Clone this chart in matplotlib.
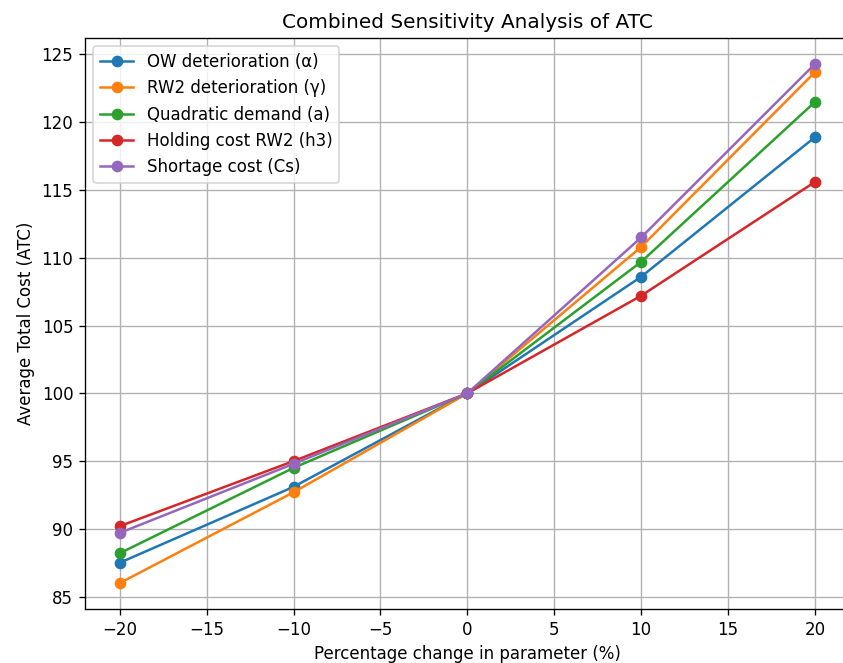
import matplotlib.pyplot as plt
import numpy as np

# Percentage change in each parameter
changes = [-20, -10, 0, 10, 20]

# ATC values
ow_alpha = [87.5, 93.1, 100.0, 108.6, 118.9]
rw2_gamma = [86.0, 92.7, 100.0, 110.8, 123.7]
quad_a = [88.2, 94.5, 100.0, 109.7, 121.5]
hold_h3 = [90.2, 95.0, 100.0, 107.2, 115.6]
short_cs = [89.7, 94.8, 100.0, 111.5, 124.3]

labels = ['OW deterioration (α)', 'RW2 deterioration (γ)', 'Quadratic demand (a)',
          'Holding cost RW2 (h3)', 'Shortage cost (Cs)']

# drawn at 120 dpi so text and lines come out a bit larger
fig, ax = plt.subplots(figsize=(843 / 120, 663 / 120), dpi=120)
fig.subplots_adjust(left=0.1008, right=1.008, top=0.9427, bottom=0.0814)

for vals, lab in zip([ow_alpha, rw2_gamma, quad_a, hold_h3, short_cs], labels):
    ax.plot(changes, vals, marker='o', label=lab)

ax.set_title('Combined Sensitivity Analysis of ATC')
ax.set_xlabel('Percentage change in parameter (%)')
ax.set_ylabel('Average Total Cost (ATC)')
ax.grid(True)
ax.spines['right'].set_visible(False)
ax.legend(loc='upper left')

plt.savefig('out.png', dpi=120)
